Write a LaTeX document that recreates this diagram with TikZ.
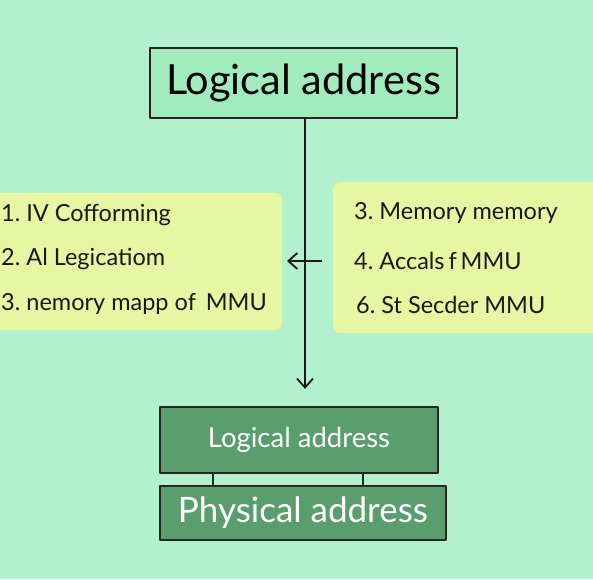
\documentclass[tikz,border=0pt]{standalone}
\usepackage{fontspec}
\setmainfont{Lato}
\usetikzlibrary{arrows.meta}
\definecolor{bgmint}{HTML}{B2F0CE}
\definecolor{topfill}{HTML}{A2EBBD}
\definecolor{listfill}{HTML}{E6F6A2}
\definecolor{darkbox}{HTML}{5A9E6E}
\tikzset{
  outline/.style={draw=black!85, line width=2.2pt, line join=round},
  listbox/.style={fill=listfill, rounded corners=7pt},
  item/.style={anchor=west, font=\fontsize{23.5}{26}\selectfont, text=black!90, inner sep=0pt},
  flow/.style={draw=black!90, line width=1.8pt, -{Straight Barb[length=9pt,width=16pt,line width=1.8pt]}},
}
\begin{document}
\begin{tikzpicture}[x=1pt,y=-1pt]
  \fill[bgmint] (0,0) rectangle (593,579);
  \useasboundingbox (0,0) rectangle (593,579);

  % side panels with the two lists
  \path[listbox] (-12,193) rectangle (282,330);
  \path[listbox] (333,182) rectangle (605,333);

  \node[item] (l1) at (1,215) {1.\ IV Cofforming};
  \node[item] (l2) at (1,259) {2.\ Al Legicatiom};
  \node[item] (l3) at (1,304) {3.\ nemory mapp of\ \,MMU};

  \node[item] (r1) at (354,213) {3.\ Memory memory};
  \node[item] (r2) at (354,261) {4.\ Accals\,f\,MMU};
  \node[item] (r3) at (356,305) {6.\ St Secder MMU};

  % top box
  \node[outline, fill=topfill, minimum width=307pt, minimum height=70pt, inner sep=0pt,
        font=\fontsize{41.5}{44}\selectfont] (top) at (303.5,83) {Logical address};

  % bottom stack
  \node[outline, fill=darkbox, minimum width=278pt, minimum height=66pt, inner sep=0pt,
        text=white, font=\fontsize{27.5}{30}\selectfont] (logic) at (299,440) {Logical address};
  \node[outline, fill=darkbox, minimum width=286pt, minimum height=54pt, inner sep=0pt,
        text=white, font=\fontsize{35}{38}\selectfont] (phys) at (303,513) {Physical address};

  \draw[outline, line width=2pt] ([xshift=-86pt]logic.south) -- ([xshift=-90pt]phys.north);
  \draw[outline, line width=2pt] ([xshift=64pt]logic.south) -- ([xshift=60pt]phys.north);

  % main flow and the side pointer
  \draw[flow, shorten >=17pt] (top.south -| 305,0) -- (logic.north -| 305,0);
  \coordinate (ptrstart) at (322,261);
  \coordinate (ptrend) at (287,261);
  \draw[flow, line width=1.6pt] (ptrstart) -- (ptrend);
\end{tikzpicture}
\end{document}
